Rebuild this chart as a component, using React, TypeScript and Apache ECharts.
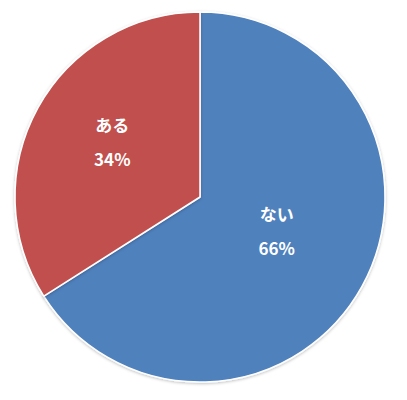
import React, { useEffect, useRef } from "react";
import * as echarts from "echarts";

const categories = ["ない", "ある"];
const values = [66, 34];
const colors = ["#4F81BD", "#C0504D"];
const labelShift = [
  [-7, -13],
  [-4, -9],
];

export default function App() {
  const ref = useRef<HTMLDivElement>(null);
  useEffect(() => {
    if (!ref.current) return;
    const chart = echarts.init(ref.current, null, { renderer: "svg" });
    chart.setOption({
      animation: false,
      backgroundColor: "#ffffff",
      series: [
        {
          type: "pie",
          center: [200, 197],
          radius: [0, 185],
          startAngle: 90,
          clockwise: true,
          data: categories.map((c, i) => ({
            name: c,
            value: values[i],
            itemStyle: { color: colors[i] },
          })),
          itemStyle: {
            borderColor: "#ffffff",
            borderWidth: 1.5,
            shadowColor: "rgba(0,0,0,0.25)",
            shadowBlur: 3,
            shadowOffsetY: 1,
          },
          label: {
            show: true,
            position: "inside",
            formatter: (p: any) => `${p.name}\n${Math.round(p.percent)}%`,
            color: "#ffffff",
            fontSize: 17,
            fontWeight: "bold",
            fontFamily: "Noto Sans CJK JP",
            lineHeight: 34,
            align: "center",
          },
          labelLayout: (p: any) => ({
            dx: labelShift[p.dataIndex][0],
            dy: labelShift[p.dataIndex][1],
          }),
          labelLine: { show: false },
          emphasis: { disabled: true },
        },
      ],
    });
    return () => chart.dispose();
  }, []);
  return (
    <div
      ref={ref}
      style={{ position: "fixed", left: 0, top: 0, width: 407, height: 400 }}
    />
  );
}
